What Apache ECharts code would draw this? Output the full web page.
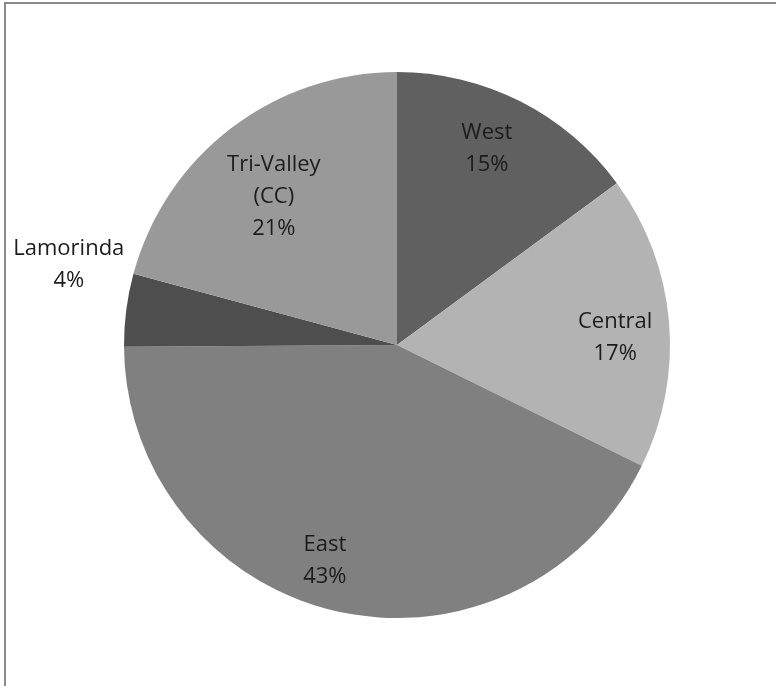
<!DOCTYPE html>
<html>
<head>
<meta charset="utf-8">
<script src="https://cdn.jsdelivr.net/npm/echarts@6/dist/echarts.min.js"></script>
<style>
html,body{margin:0;padding:0;background:#fff;}
#frame{position:absolute;left:4px;top:2px;width:772px;height:684px;border-left:2px solid #8a8a8a;border-top:2px solid #8a8a8a;box-sizing:border-box;}
#chart{position:absolute;left:0;top:0;width:776px;height:686px;}
</style>
</head>
<body>
<div id="frame"></div>
<div id="chart"></div>
<script>
// Data (clockwise from 12 o'clock), shares
var categories = ['West', 'Central', 'East', 'Lamorinda', 'Tri-Valley\n(CC)'];
var shares = [14.9, 17.4, 42.6, 4.3, 20.8];
var sliceColors = ['#606060', '#b3b3b3', '#808080', '#4e4e4e', '#999999'];
var labelOffsets = [[-9, -1], [0, 12], [-23, 2], [-111, -52], [10, 26]];

var chart = echarts.init(document.getElementById('chart'), null, {renderer: 'canvas'});
var pieData = categories.map(function (c, i) {
  return {name: c, value: shares[i], itemStyle: {color: sliceColors[i]}};
});
var labelData = categories.map(function (c, i) {
  return {name: c, value: shares[i], label: {offset: labelOffsets[i]}};
});
chart.setOption({
  animation: false,
  series: [
    {
      type: 'pie',
      center: [397, 345],
      radius: 273,
      startAngle: 90,
      clockwise: true,
      silent: true,
      label: {show: false},
      labelLine: {show: false},
      itemStyle: {borderWidth: 0},
      data: pieData
    },
    {
      type: 'pie',
      center: [397, 345],
      radius: [160, 272],
      startAngle: 90,
      clockwise: true,
      silent: true,
      percentPrecision: 0,
      avoidLabelOverlap: false,
      itemStyle: {color: 'rgba(0,0,0,0)', borderWidth: 0},
      labelLine: {show: false},
      label: {
        show: true,
        position: 'inside',
        formatter: '{b}\n{d}%',
        fontFamily: 'Open Sans',
        fontSize: 22,
        lineHeight: 32,
        color: '#1c1c1c',
        align: 'center'
      },
      data: labelData
    }
  ]
});
</script>
</body>
</html>
